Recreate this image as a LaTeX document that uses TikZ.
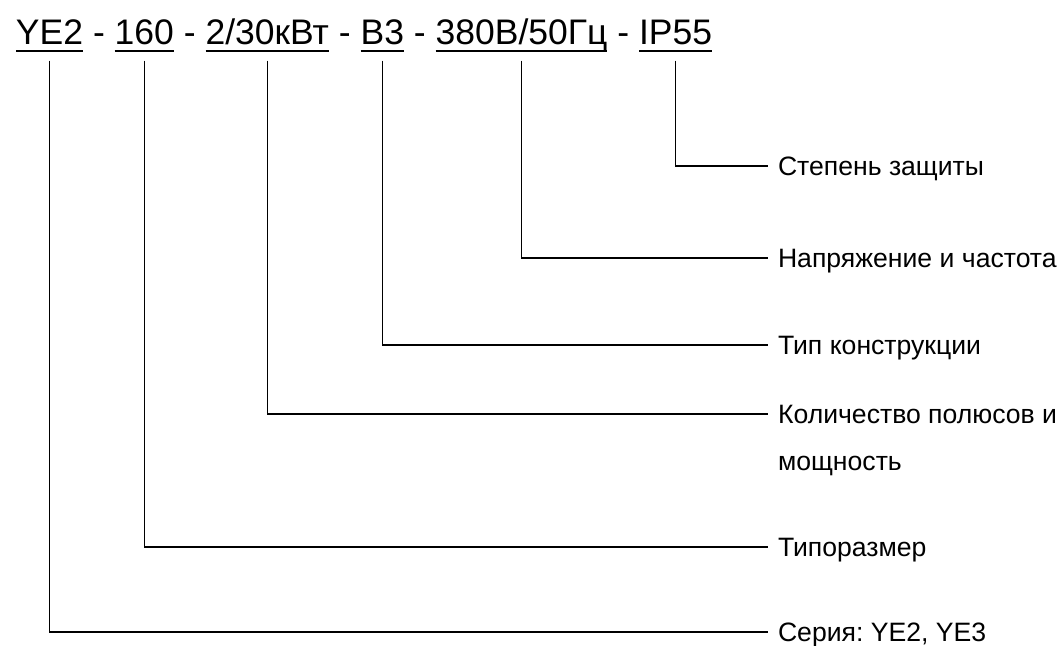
\documentclass[tikz,border=0pt]{standalone}
\usepackage{fontspec}
\setmainfont{Liberation Sans}
\frenchspacing
\usetikzlibrary{positioning}

\begin{document}
\begin{tikzpicture}[x=1pt, y=-1pt,
    code/.style={inner sep=0pt, outer sep=0pt, font=\fontsize{35.5}{40}\selectfont},
    hyph/.style={inner ysep=0pt, inner xsep=9.9pt, outer sep=0pt, font=\fontsize{35.5}{40}\selectfont},
    desc/.style={anchor=west, inner xsep=10pt, inner ysep=0pt, outer sep=0pt,
        text height=19pt, text depth=0pt, font=\fontsize{26.6}{31}\selectfont},
    leader/.style={line width=1.2pt},
    uline/.style={line width=2pt}]
    \useasboundingbox (0,0) rectangle (1064,645);

    % Marking code
    \node[code, anchor=base west] (ye) at (16,44.5) {YE2};
    \node[hyph, base right=0pt of ye] (h1) {-};
    \node[code, base right=0pt of h1] (size) {160};
    \node[hyph, base right=0pt of size] (h2) {-};
    \node[code, base right=0pt of h2] (power) {2/30кВт};
    \node[hyph, base right=0pt of power] (h3) {-};
    \node[code, base right=0pt of h3] (mount) {B3};
    \node[hyph, base right=0pt of mount] (h4) {-};
    \node[code, base right=0pt of h4] (volt) {380В/50Гц};
    \node[hyph, base right=0pt of volt] (h5) {-};
    \node[code, base right=0pt of h5] (ip) {IP55};

    % Underlines
    \foreach \c in {ye, size, power, mount, volt, ip}
        \draw[uline] ([yshift=-6.5pt]\c.base west) -- ([yshift=-6.5pt]\c.base east);

    % Descriptions
    \node[desc] (ipdesc) at (768,166) {Степень защиты};
    \node[desc] (voltdesc) at (768,258) {Напряжение и частота};
    \node[desc] (mountdesc) at (768,345) {Тип конструкции};
    \node[desc] (powerdesc) at (768,414) {\begin{tabular}[t]{@{}l@{}}Количество полюсов и\\[16pt]мощность\end{tabular}};
    \node[desc] (sizedesc) at (768,547) {Типоразмер};
    \node[desc] (yedesc) at (768,632) {Серия: YE2, YE3};

    % Leaders
    \foreach \c/\d in {ye/yedesc, size/sizedesc, power/powerdesc, mount/mountdesc, volt/voltdesc, ip/ipdesc}
        \draw[leader] ([yshift=-16pt]\c.base) |- (\d.west);
\end{tikzpicture}
\end{document}
